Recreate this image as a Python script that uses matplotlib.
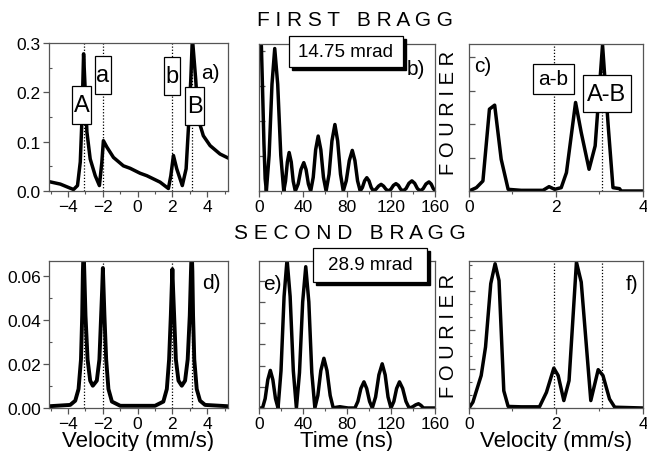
import matplotlib
matplotlib.use("Agg")
import matplotlib.pyplot as plt
from matplotlib.patches import Rectangle
from matplotlib.ticker import MultipleLocator, NullFormatter

plt.rcParams['font.family'] = ['Liberation Sans', 'DejaVu Sans']
plt.rcParams['axes.edgecolor'] = '#555555'
plt.rcParams['axes.linewidth'] = 0.9
plt.rcParams['xtick.color'] = '#555555'
plt.rcParams['ytick.color'] = '#555555'
plt.rcParams['xtick.labelcolor'] = 'black'
plt.rcParams['ytick.labelcolor'] = 'black'

W, H = 647, 452

# --- first Bragg: velocity spectrum (a) ---
vel_a = [-5.1, -4.45, -3.69, -3.46, -3.3, -3.21, -3.11, -3.02, -2.92, -2.73, -2.44,
         -2.2, -2.06, -1.97, -1.77, -1.39, -0.82, -0.43, 0.14, 0.53, 1.29, 1.77,
         1.91, 2.06, 2.25, 2.57, 2.79, 2.92, 3.06, 3.15, 3.34, 3.49, 3.78, 4.17,
         4.74, 5.2]
amp_a = [0.019, 0.014, 0.003, 0.011, 0.059, 0.14, 0.278, 0.207, 0.12, 0.065, 0.031,
         0.011, 0.058, 0.102, 0.089, 0.068, 0.051, 0.046, 0.036, 0.031, 0.018, 0.005,
         0.031, 0.072, 0.045, 0.011, 0.045, 0.126, 0.227, 0.31, 0.227, 0.146, 0.112,
         0.092, 0.075, 0.067]

# --- first Bragg: time spectrum (b) ---
time_b = [0, 1.1, 2.2, 3.4, 4.5, 5.6, 6.7,
          9.2, 11.8, 14.3, 17.0, 19.8, 22.5,
          24.1, 25.8, 27.4, 29.3, 31.1, 33.0,
          35.6, 38.1, 40.7, 42.8, 44.9, 47.0,
          49.3, 51.5, 53.8, 56.2, 58.6, 61.0,
          63.7, 66.3, 69.0, 71.5, 74.1, 76.6,
          79.3, 82.1, 84.8, 87.2, 89.6, 92.0,
          94.0, 96.0, 98.0, 100.0, 102.0, 104.0,
          106.3, 108.7, 111.0, 113.2, 115.4, 117.6,
          119.9, 122.2, 124.5, 126.7, 128.8, 131.0,
          133.7, 136.3, 139.0, 141.5, 144.0, 146.5,
          149.2, 151.8, 154.5, 156.5, 158.5, 160.5]
cnt_b = [5.4, 5.0, 4.1, 2.7, 1.35, 0.35, 0.0,
         1.02, 3.05, 4.07, 3.05, 1.02, 0.0,
         0.28, 0.83, 1.1, 0.83, 0.28, 0.0,
         0.2, 0.61, 0.81, 0.61, 0.2, 0.0,
         0.39, 1.18, 1.57, 1.18, 0.39, 0.0,
         0.48, 1.43, 1.9, 1.43, 0.48, 0.0,
         0.29, 0.87, 1.16, 0.87, 0.29, 0.0,
         0.1, 0.29, 0.38, 0.29, 0.1, 0.0,
         0.05, 0.14, 0.19, 0.14, 0.05, 0.0,
         0.05, 0.16, 0.21, 0.16, 0.05, 0.0,
         0.07, 0.22, 0.29, 0.22, 0.07, 0.0,
         0.065, 0.2, 0.26, 0.2, 0.065, 0.0]

# --- first Bragg: Fourier transform (c) ---
vel_c = [0, 0.17, 0.32, 0.47, 0.59, 0.74, 0.9, 1.2, 1.5, 1.7, 1.84, 1.97, 2.12,
         2.24, 2.45, 2.58, 2.76, 2.9, 3.07, 3.2, 3.31, 3.46, 3.5, 4.0]
amp_c = [0, 0.1, 0.3, 2.45, 2.57, 0.95, 0.05, 0.02, 0.02, 0.02, 0.13, 0.05, 0.1,
         0.55, 2.65, 1.75, 0.65, 1.35, 4.37, 1.95, 0.1, 0.07, 0.0, 0.0]

# --- second Bragg: velocity spectrum (d) ---
vel_d = [-5.1, -3.88, -3.59, -3.40, -3.26, -3.19, -3.15, -3.11, -3.07, -3.0, -2.88,
         -2.73, -2.58, -2.35, -2.2, -2.1, -2.04, -2.0, -1.96, -1.91, -1.81, -1.68,
         -1.48, -1.0, 1.0, 1.48, 1.68, 1.81, 1.91, 1.96, 2.0, 2.04, 2.1, 2.2, 2.35,
         2.54, 2.73, 2.88, 3.0, 3.07, 3.11, 3.15, 3.19, 3.26, 3.40, 3.59, 3.88, 5.2]
amp_d = [0.0008, 0.0014, 0.0033, 0.0086, 0.022, 0.042, 0.062, 0.072, 0.062, 0.042,
         0.022, 0.0124, 0.0101, 0.0124, 0.022, 0.042, 0.054, 0.0635, 0.054, 0.042,
         0.022, 0.0086, 0.0029, 0.001, 0.001, 0.0029, 0.0086, 0.022, 0.042, 0.054,
         0.063, 0.054, 0.042, 0.022, 0.0124, 0.0101, 0.0124, 0.022, 0.042, 0.062,
         0.072, 0.062, 0.042, 0.022, 0.0086, 0.0033, 0.0014, 0.0008]

# --- second Bragg: time spectrum (e) ---
time_e = [0, 3.2, 5.6, 8.0, 10.3, 12.6, 15.0, 17.3,
          20.0, 22.8, 25.5, 28.3, 31.2, 34.0,
          36.8, 39.7, 42.5, 45.3, 48.0, 50.8,
          53.5, 56.2, 59.0, 61.8, 64.7, 67.5,
          70.0, 73.5, 77.0, 81.0, 87.2,
          89.9, 92.6, 95.4, 97.9, 100.5, 103.0,
          106.0, 109.0, 112.0, 114.7, 117.3, 120.0,
          122.6, 125.1, 127.7, 130.6, 133.6, 136.5,
          139.5, 142.5, 145.0, 147.3, 149.5, 160.0]
cnt_e = [0, 0, 0.44, 1.33, 1.77, 1.33, 0.44, 0,
         1.75, 5.25, 7.0, 5.25, 1.75, 0,
         1.66, 4.99, 6.65, 4.99, 1.66, 0,
         0.59, 1.76, 2.34, 1.76, 0.59, 0,
         0.03, 0.06, 0.03, 0.0, 0.0,
         0.31, 0.92, 1.23, 0.92, 0.31, 0,
         0.52, 1.56, 2.08, 1.56, 0.52, 0,
         0.31, 0.92, 1.23, 0.92, 0.31, 0,
         0.05, 0.15, 0.2, 0.12, 0.0, 0.0]

# --- second Bragg: Fourier transform (f) ---
vel_f = [0, 0.09, 0.28, 0.38, 0.5, 0.6, 0.69, 0.8, 0.9, 1.2, 1.62, 1.78, 1.95,
         2.05, 2.18, 2.3, 2.47, 2.58, 2.8, 2.97, 3.08, 3.23, 3.35, 4.0]
amp_f = [0, 0.15, 0.83, 1.56, 3.18, 3.69, 3.26, 0.44, 0.04, 0.03, 0.03, 0.4, 1.02,
         0.83, 0.19, 0.7, 3.73, 3.22, 0.19, 0.98, 0.83, 0.23, 0.02, 0.0]

# line positions: A, a, b, B and the Fourier differences
lines_vel = [-3.1, -2.0, 2.0, 3.1]
lines_fourier = [1.95, 3.05]

TICK_FS = 12.5
PANEL_FS = 15
CURVE_LW = 2.5


def px_axes(x0, x1, y0, y1):
    # axes rectangle given in pixel coordinates, y measured from the top
    return fig.add_axes([x0 / W, 1 - y1 / H, (x1 - x0) / W, (y1 - y0) / H])


def style(ax, label_y=True):
    ax.tick_params(which='major', direction='out', length=4, width=0.9,
                   labelsize=TICK_FS, pad=2)
    ax.tick_params(which='minor', direction='out', length=2.5, width=0.8)
    ax.tick_params(axis='y', which='both', direction='in')
    if label_y:
        ax.tick_params(axis='y', which='major', direction='out')
    else:
        ax.yaxis.set_major_formatter(NullFormatter())


def tag_box(ax, x0, x1, y0, y1, text, size):
    ax.add_patch(Rectangle((x0, y0), x1 - x0, y1 - y0, transform=ax.transAxes,
                           facecolor='white', edgecolor='black', lw=0.9,
                           zorder=5, clip_on=False))
    ax.text((x0 + x1) / 2, (y0 + y1) / 2, text, transform=ax.transAxes,
            ha='center', va='center', fontsize=size, zorder=6)


def shadow_box(x0, x1, y0, y1, text, size):
    # boxed caption in figure pixels with a drop shadow
    off = 3
    fig.add_artist(Rectangle(((x0 + off) / W, 1 - (y1 + off) / H), (x1 - x0) / W,
                             (y1 - y0) / H, transform=fig.transFigure,
                             facecolor='black', edgecolor='black', zorder=5))
    fig.add_artist(Rectangle((x0 / W, 1 - y1 / H), (x1 - x0) / W, (y1 - y0) / H,
                             transform=fig.transFigure, facecolor='white',
                             edgecolor='black', lw=0.9, zorder=6))
    fig.text((x0 + x1) / 2 / W, 1 - (y0 + y1) / 2 / H, text, ha='center',
             va='center', fontsize=size, zorder=7)


fig = plt.figure(figsize=(W / 100, H / 100), dpi=100)

# a) velocity, first Bragg
ax = px_axes(49, 228, 44, 192)
ax.plot(vel_a, amp_a, color='black', lw=CURVE_LW, solid_joinstyle='round')
for v in lines_vel:
    ax.axvline(v, color='black', lw=0.9, ls=(0, (1, 1.5)), zorder=1)
ax.set_xlim(-5.1, 5.2)
ax.set_ylim(0, 0.3)
ax.xaxis.set_major_locator(MultipleLocator(2))
ax.xaxis.set_minor_locator(MultipleLocator(1))
ax.yaxis.set_major_locator(MultipleLocator(0.1))
ax.yaxis.set_minor_locator(MultipleLocator(0.05))
ax.yaxis.set_major_formatter('{x:.1f}')
style(ax)
tag_box(ax, 0.128, 0.235, 0.453, 0.709, 'A', 17)
tag_box(ax, 0.257, 0.346, 0.655, 0.912, 'a', 17)
tag_box(ax, 0.642, 0.732, 0.649, 0.905, 'b', 17)
tag_box(ax, 0.760, 0.866, 0.446, 0.703, 'B', 17)
ax.text(0.849, 0.80, 'a)', transform=ax.transAxes, ha='left', va='center',
        fontsize=PANEL_FS)

# b) time, first Bragg
ax = px_axes(259, 435, 45, 192)
ax.plot(time_b, cnt_b, color='black', lw=CURVE_LW, solid_joinstyle='round')
ax.set_xlim(0, 160)
ax.set_ylim(0, 4.2)
ax.xaxis.set_major_locator(MultipleLocator(40))
ax.xaxis.set_minor_locator(MultipleLocator(20))
ax.yaxis.set_major_locator(MultipleLocator(1))
style(ax, label_y=False)
ax.text(0.841, 0.83, 'b)', transform=ax.transAxes, ha='left', va='center',
        fontsize=PANEL_FS)

# c) Fourier, first Bragg
ax = px_axes(469, 643, 45, 192)
ax.plot(vel_c, amp_c, color='black', lw=CURVE_LW, solid_joinstyle='round')
for v in lines_fourier:
    ax.axvline(v, color='black', lw=0.9, ls=(0, (1, 1.5)), zorder=1)
ax.set_xlim(0, 4)
ax.set_ylim(0, 4.4)
ax.xaxis.set_major_locator(MultipleLocator(2))
ax.xaxis.set_minor_locator(MultipleLocator(1))
ax.yaxis.set_major_locator(MultipleLocator(1))
style(ax, label_y=False)
tag_box(ax, 0.368, 0.603, 0.660, 0.864, 'a-b', 15)
tag_box(ax, 0.655, 0.931, 0.537, 0.789, 'A-B', 17)
ax.text(0.029, 0.857, 'c)', transform=ax.transAxes, ha='left', va='center',
        fontsize=PANEL_FS)

# d) velocity, second Bragg
ax = px_axes(49, 228, 262, 409)
ax.plot(vel_d, amp_d, color='black', lw=CURVE_LW + 0.3, solid_joinstyle='round')
for v in lines_vel:
    ax.axvline(v, color='black', lw=0.9, ls=(0, (1, 1.5)), zorder=1)
ax.set_xlim(-5.1, 5.2)
ax.set_ylim(0, 0.0667)
ax.xaxis.set_major_locator(MultipleLocator(2))
ax.xaxis.set_minor_locator(MultipleLocator(1))
ax.yaxis.set_major_locator(MultipleLocator(0.02))
ax.yaxis.set_minor_locator(MultipleLocator(0.01))
ax.yaxis.set_major_formatter('{x:.2f}')
style(ax)
ax.set_xlabel('Velocity (mm/s)', fontsize=16, labelpad=-1)
ax.text(0.855, 0.854, 'd)', transform=ax.transAxes, ha='left', va='center',
        fontsize=PANEL_FS)

# e) time, second Bragg
ax = px_axes(259, 435, 262, 409)
ax.plot(time_e, cnt_e, color='black', lw=CURVE_LW, solid_joinstyle='round')
ax.set_xlim(0, 160)
ax.set_ylim(0, 6.92)
ax.xaxis.set_major_locator(MultipleLocator(40))
ax.xaxis.set_minor_locator(MultipleLocator(20))
ax.yaxis.set_major_locator(MultipleLocator(1))
style(ax, label_y=False)
ax.set_xlabel('Time (ns)', fontsize=16, labelpad=-1)
ax.text(0.023, 0.847, 'e)', transform=ax.transAxes, ha='left', va='center',
        fontsize=PANEL_FS)

# f) Fourier, second Bragg
ax = px_axes(469, 643, 262, 409)
ax.plot(vel_f, amp_f, color='black', lw=CURVE_LW, solid_joinstyle='round')
for v in lines_fourier:
    ax.axvline(v, color='black', lw=0.9, ls=(0, (1, 1.5)), zorder=1)
ax.set_xlim(0, 4)
ax.set_ylim(0, 3.76)
ax.xaxis.set_major_locator(MultipleLocator(2))
ax.xaxis.set_minor_locator(MultipleLocator(1))
ax.yaxis.set_major_locator(MultipleLocator(1))
ax.yaxis.set_minor_locator(MultipleLocator(1 / 3))
style(ax, label_y=False)
ax.set_xlabel('Velocity (mm/s)', fontsize=16, labelpad=-1)
ax.text(0.90, 0.85, 'f)', transform=ax.transAxes, ha='left', va='center',
        fontsize=PANEL_FS)

# captions
shadow_box(289, 403, 37, 68, '14.75 mrad', 13.5)
shadow_box(313, 427, 249, 283, '28.9 mrad', 13.5)

fig.text(355 / W, 1 - 21 / H, 'F I R S T   B R A G G', ha='center', va='center',
         fontsize=15)
fig.text(350 / W, 1 - 234 / H, 'S E C O N D   B R A G G', ha='center',
         va='center', fontsize=15)
fig.text(448 / W, 1 - 113 / H, 'F O U R I E R', rotation=90, ha='center',
         va='center', fontsize=14.5)
fig.text(448 / W, 1 - 336 / H, 'F O U R I E R', rotation=90, ha='center',
         va='center', fontsize=14.5)

fig.savefig('out.png', dpi=100)
